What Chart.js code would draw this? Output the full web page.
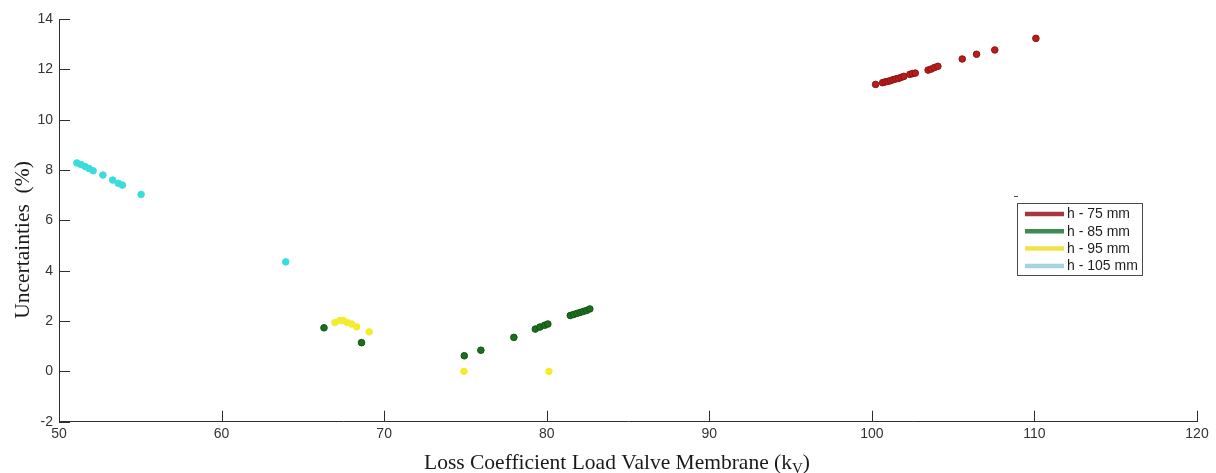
<!DOCTYPE html>
<html>
<head>
<meta charset="utf-8">
<script src="https://cdn.jsdelivr.net/npm/chart.js@4.4.1/dist/chart.umd.min.js"></script>
<style>
  html, body { margin: 0; padding: 0; background: #ffffff; }
  #wrap { width: 1216px; height: 473px; }
</style>
</head>
<body>
<div id="wrap"><canvas id="c" width="1216" height="473"></canvas></div>
<script>
// ---------------- DATA ----------------
const seriesLabels = ['h - 75 mm', 'h - 85 mm', 'h - 95 mm', 'h - 105 mm'];

const h75X = [100.23, 100.66, 100.82, 100.98, 101.15, 101.31, 101.48, 101.64, 101.80, 101.97,
              102.34, 102.50, 102.67, 103.46, 103.65, 103.85, 104.06, 105.56, 106.44, 107.56, 110.09];
const h75Y = [11.40, 11.47, 11.50, 11.52, 11.55, 11.59, 11.62, 11.64, 11.68, 11.72,
              11.80, 11.83, 11.85, 11.97, 12.01, 12.07, 12.12, 12.41, 12.60, 12.77, 13.23];

const h85X = [66.30, 68.61, 74.93, 75.95, 77.98, 79.30, 79.58, 79.87, 80.07,
              81.45, 81.65, 81.85, 82.05, 82.25, 82.45, 82.65];
const h85Y = [1.73, 1.14, 0.62, 0.84, 1.35, 1.68, 1.76, 1.83, 1.88,
              2.22, 2.26, 2.30, 2.34, 2.38, 2.42, 2.48];

const h95X = [66.97, 67.28, 67.49, 67.73, 68.00, 68.31, 69.08, 74.91, 80.14];
const h95Y = [1.94, 2.02, 2.02, 1.94, 1.88, 1.77, 1.57, 0.00, 0.00];

const h105X = [51.10, 51.35, 51.60, 51.85, 52.10, 52.70, 53.30, 53.65, 53.90, 55.05, 63.95];
const h105Y = [8.28, 8.22, 8.14, 8.06, 7.97, 7.80, 7.60, 7.47, 7.40, 7.03, 4.35];

const xTickValues = [50, 60, 70, 80, 90, 100, 110, 120];
const yTickValues = [-2, 0, 2, 4, 6, 8, 10, 12, 14];

const xTitle = 'Loss Coefficient Load Valve Membrane (k';
const xTitleSub = 'V';
const yTitle = 'Uncertainties  (%)';

// ---------------- STYLE ----------------
const pointFill   = ['#b81c1c', '#1c6e1e', '#f3ec2e', '#3cdcdc'];
const pointBorder = ['#8e1414', '#0f5512', '#f3ec2e', '#3cdcdc'];
const legendColors = ['#a8363f', '#3d8a52', '#f1e44a', '#a8d3e0'];
const axisColor = '#2e2e2e';

function pts(xs, ys) { return xs.map((x, i) => ({ x: x, y: ys[i] })); }

const seriesX = [h75X, h85X, h95X, h105X];
const seriesY = [h75Y, h85Y, h95Y, h105Y];

const datasets = seriesLabels.map((lab, i) => ({
  label: lab,
  data: pts(seriesX[i], seriesY[i]),
  backgroundColor: pointFill[i],
  borderColor: pointBorder[i],
  borderWidth: 1,
  pointRadius: 3.3,
  pointHoverRadius: 3.3,
  showLine: false
}));

// inward tick marks
const inwardTicks = {
  id: 'inwardTicks',
  afterDraw(chart) {
    const ctx = chart.ctx;
    const xs = chart.scales.x, ys = chart.scales.y;
    const ca = chart.chartArea;
    ctx.save();
    ctx.strokeStyle = axisColor;
    ctx.lineWidth = 1;
    ctx.beginPath();
    xTickValues.forEach(v => {
      const px = Math.round(xs.getPixelForValue(v)) + 0.5;
      ctx.moveTo(px, ca.bottom);
      ctx.lineTo(px, ca.bottom - 11);
    });
    yTickValues.forEach(v => {
      const py = Math.round(ys.getPixelForValue(v)) + 0.5;
      ctx.moveTo(ca.left, py);
      ctx.lineTo(ca.left + 11, py);
    });
    ctx.stroke();
    ctx.restore();
  }
};

// axis titles (with subscript)
const axisTitles = {
  id: 'axisTitles',
  afterDraw(chart) {
    const ctx = chart.ctx;
    ctx.save();
    ctx.fillStyle = '#1a1a1a';
    const mainFont = '21.5px "Liberation Serif", "Times New Roman", serif';
    const subFont = '15px "Liberation Serif", "Times New Roman", serif';
    // x title
    ctx.font = mainFont;
    const w1 = ctx.measureText(xTitle).width;
    ctx.font = subFont;
    const w2 = ctx.measureText(xTitleSub).width;
    ctx.font = mainFont;
    const w3 = ctx.measureText(')').width;
    const total = w1 + w2 + w3;
    const cx = 617;
    let x0 = cx - total / 2;
    const base = 469;
    ctx.textBaseline = 'alphabetic';
    ctx.textAlign = 'left';
    ctx.fillText(xTitle, x0, base);
    ctx.font = subFont;
    ctx.fillText(xTitleSub, x0 + w1, base + 4);
    ctx.font = mainFont;
    ctx.fillText(')', x0 + w1 + w2, base);
    // y title
    ctx.translate(29, 240);
    ctx.rotate(-Math.PI / 2);
    ctx.textAlign = 'center';
    ctx.textBaseline = 'alphabetic';
    ctx.font = mainFont;
    ctx.fillText(yTitle, 0, 0);
    ctx.restore();
  }
};

// legend inside plot
const boxLegend = {
  id: 'boxLegend',
  afterDraw(chart) {
    const ctx = chart.ctx;
    ctx.save();
    const bx = 1017.5, by = 203.5, bw = 125, bh = 72;
    ctx.fillStyle = '#ffffff';
    ctx.fillRect(bx, by, bw, bh);
    ctx.strokeStyle = '#4a4a4a';
    ctx.lineWidth = 1;
    ctx.strokeRect(bx, by, bw, bh);
    // small mark above
    ctx.beginPath();
    ctx.moveTo(1014, 196.5);
    ctx.lineTo(1018, 196.5);
    ctx.stroke();
    ctx.font = '14px "Liberation Sans", Arial, sans-serif';
    ctx.textBaseline = 'middle';
    ctx.textAlign = 'left';
    seriesLabels.forEach((lab, i) => {
      const y = 214 + i * 17.3;
      ctx.strokeStyle = legendColors[i];
      ctx.lineWidth = 4.5;
      ctx.lineCap = 'butt';
      ctx.beginPath();
      ctx.moveTo(1025, y);
      ctx.lineTo(1064, y);
      ctx.stroke();
      ctx.fillStyle = '#1e1e1e';
      ctx.fillText(lab, 1067, y + 0.5);
    });
    ctx.restore();
  }
};

new Chart(document.getElementById('c'), {
  type: 'scatter',
  data: { datasets: datasets },
  options: {
    responsive: false,
    animation: false,
    events: [],
    layout: { padding: { left: 0, top: 19, right: 19, bottom: 0 } },
    plugins: { legend: { display: false }, tooltip: { enabled: false } },
    scales: {
      x: {
        type: 'linear',
        min: 50, max: 120,
        afterBuildTicks: (s) => { s.ticks = xTickValues.map(v => ({ value: v })); },
        afterFit: (s) => { s.height = 51.3; },
        grid: { display: true, drawOnChartArea: false, drawTicks: false },
        border: { display: true, color: axisColor, width: 1 },
        ticks: {
          autoSkip: false, maxRotation: 0, padding: 4,
          color: '#333333',
          font: { family: '"Liberation Sans", Arial, sans-serif', size: 14 }
        }
      },
      y: {
        type: 'linear',
        min: -2, max: 14,
        afterBuildTicks: (s) => { s.ticks = yTickValues.map(v => ({ value: v })); },
        afterFit: (s) => { s.width = 59; },
        grid: { display: true, drawOnChartArea: false, drawTicks: false },
        border: { display: true, color: axisColor, width: 1 },
        ticks: {
          autoSkip: false, padding: 6,
          color: '#333333',
          font: { family: '"Liberation Sans", Arial, sans-serif', size: 14 }
        }
      }
    }
  },
  plugins: [inwardTicks, axisTitles, boxLegend]
});
</script>
</body>
</html>
